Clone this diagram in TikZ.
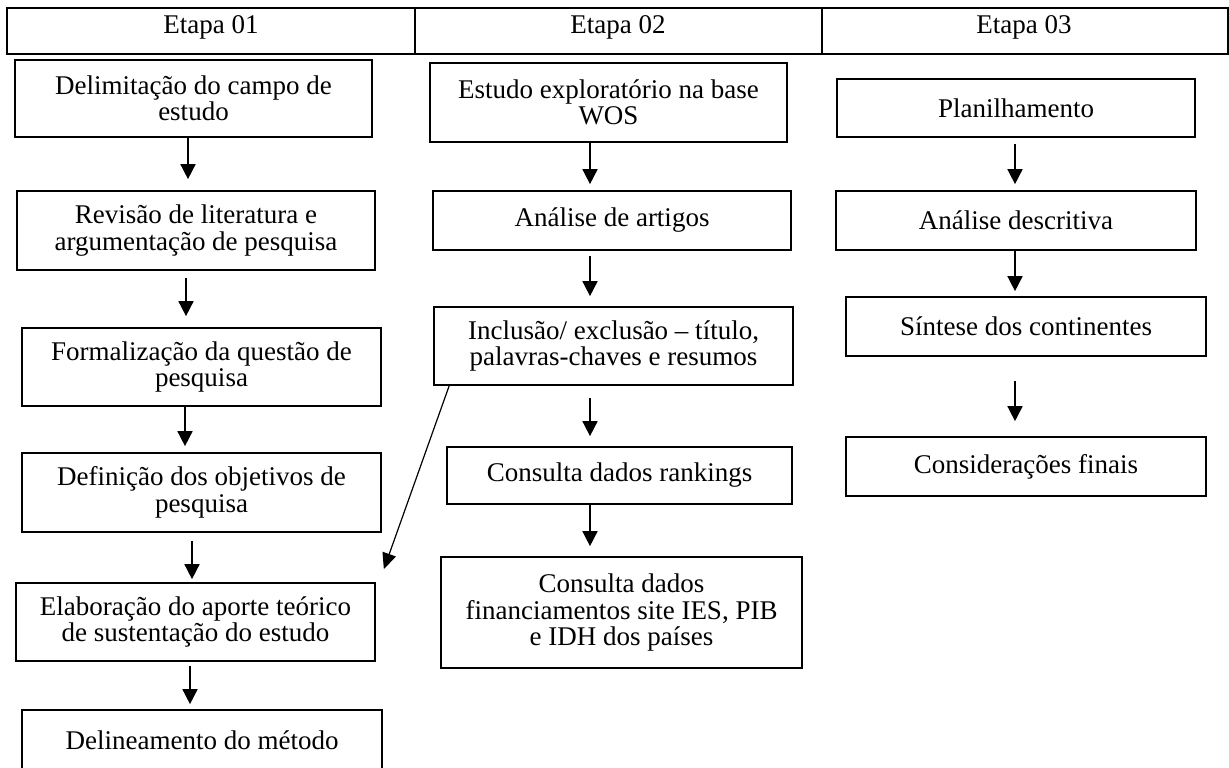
\documentclass[tikz,border=0pt]{standalone}
\usepackage{fontspec}
\setmainfont{Liberation Serif}
\usetikzlibrary{arrows.meta,calc}
\begin{document}
\begin{tikzpicture}[x=0.5pt,y=-0.5pt,
  every node/.style={font=\fontsize{13.5}{13.2}\selectfont},
  box/.style={draw,line width=0.85pt,rectangle,align=center,inner sep=0pt},
  hdr/.style={inner sep=0pt,anchor=center},
  arr/.style={line width=0.8pt,-{Triangle[length=7.5pt,width=7.5pt]}},
  diag/.style={line width=0.6pt,-{Triangle[length=8pt,width=7pt]}}]
\useasboundingbox (0,0) rectangle (1229,767);
% header
\draw[line width=1pt] (7,8) rectangle (1228,54);
\draw[line width=1pt] (415,8) -- (415,54) (822,8) -- (822,54);
\node[hdr] (H1) at (211,27) {Etapa 01};
\node[hdr] (H2) at (618,27) {Etapa 02};
\node[hdr] (H3) at (1024,27) {Etapa 03};
% left column
\node[box,minimum width=178.5pt,minimum height=38.5pt] (A1) at (193.5,98.5) {Delimitação do campo de\\estudo};
\node[box,minimum width=179pt,minimum height=39.5pt] (A2) at (196,230.5) {Revisão de literatura e\\argumentação de pesquisa};
\node[box,minimum width=179.5pt,minimum height=39pt] (A3) at (201.5,367) {Formalização da questão de\\pesquisa};
\node[box,minimum width=179.5pt,minimum height=39.5pt] (A4) at (201.5,492.5) {Definição dos objetivos de\\pesquisa};
\node[box,minimum width=179.5pt,minimum height=39pt] (A5) at (195.5,622) {Elaboração do aporte teórico\\de sustentação do estudo};
\node[box,minimum width=180pt,minimum height=30pt] (A6) at (202,740) {Delineamento do método};
% middle column
\node[box,minimum width=178.5pt,minimum height=39.5pt] (B1) at (608.5,102.5) {Estudo exploratório na base\\WOS};
\node[box,minimum width=179pt,minimum height=29.5pt] (B2) at (612,220.5) {Análise de artigos};
\node[box,minimum width=179.5pt,minimum height=39pt] (B3) at (613.5,346) {Inclusão/ exclusão -- título,\\palavras-chaves e resumos};
\node[box,minimum width=172.5pt,minimum height=28.5pt] (B4) at (619.5,475.5) {Consulta dados rankings};
\node[box,minimum width=180.5pt,minimum height=55.5pt] (B5) at (621.5,612.5) {Consulta dados\\financiamentos site IES, PIB\\e IDH dos países};
% right column
\node[box,minimum width=179pt,minimum height=29pt] (C1) at (1016,108) {Planilhamento};
\node[box,minimum width=180pt,minimum height=29.5pt] (C2) at (1016,220.5) {Análise descritiva};
\node[box,minimum width=180pt,minimum height=29.5pt] (C3) at (1026,326.5) {Síntese dos continentes};
\node[box,minimum width=180pt,minimum height=29.5pt] (C4) at (1026,466.5) {Considerações finais};
% left arrows
\draw[arr,shorten >=5.5pt] ($(A1.south)+(-5.5,0)$) -- ($(A2.north)+(-8,0)$);
\draw[arr,shorten <=3.5pt,shorten >=5.5pt] ($(A2.south)+(-10,0)$) -- ($(A3.north)+(-15.5,0)$);
\draw[arr,shorten >=3pt] ($(A3.south)+(-16.5,0)$) -- ($(A4.north)+(-16.5,0)$);
\draw[arr,shorten <=4pt,shorten >=1.5pt] ($(A4.south)+(-9.5,0)$) -- ($(A5.north)+(-3.5,0)$);
\draw[arr,shorten <=2pt,shorten >=2.5pt] ($(A5.south)+(-5.5,0)$) -- ($(A6.north)+(-12,0)$);
% middle arrows
\draw[arr,shorten >=3pt] ($(B1.south)+(-18.5,0)$) -- ($(B2.north)+(-22,0)$);
\draw[arr,shorten <=2.5pt,shorten >=5pt] ($(B2.south)+(-22,0)$) -- ($(B3.north)+(-23.5,0)$);
\draw[arr,shorten <=6pt,shorten >=5pt] ($(B3.south)+(-23.5,0)$) -- ($(B4.north)+(-29.5,0)$);
\draw[arr,shorten >=5pt] ($(B4.south)+(-29.5,0)$) -- ($(B5.north)+(-31.5,0)$);
% right arrows
\draw[arr,shorten <=3pt,shorten >=3pt] ($(C1.south)+(-1,0)$) -- ($(C2.north)+(-1,0)$);
\draw[arr,shorten >=2.5pt] ($(C2.south)+(-1,0)$) -- ($(C3.north)+(-11,0)$);
\draw[arr,shorten <=12pt,shorten >=7.5pt] ($(C3.south)+(-11,0)$) -- ($(C4.north)+(-11,0)$);
% diagonal
\coordinate (D) at ($(A5.north east)+(8,-13)$);
\draw[diag] ($(B3.south west)+(16,0)$) -- (D);
\end{tikzpicture}
\end{document}
